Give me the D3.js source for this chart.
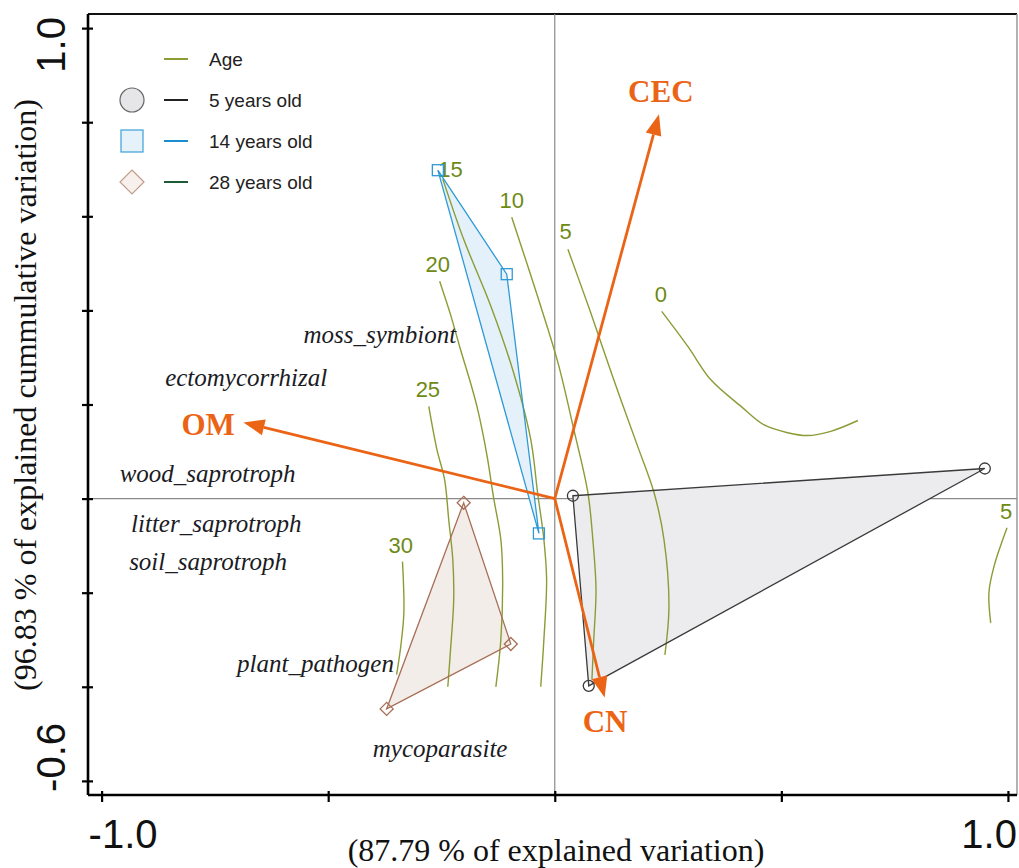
<!DOCTYPE html>
<html>
<head>
<meta charset="utf-8">
<script src="https://cdn.jsdelivr.net/npm/d3@7/dist/d3.min.js"></script>
<style>
  html, body { margin: 0; padding: 0; background: #fff; }
  svg { display: block; }
</style>
</head>
<body>
<div id="chart"></div>
<script>
// ---------------------------------------------------------------------------
// Data (all in axis units)
// ---------------------------------------------------------------------------
const xTicks = [-1.0, -0.5, 0.0, 0.5, 1.0];
const yTicks = [-0.6, -0.4, -0.2, 0.0, 0.2, 0.4, 0.6, 0.8, 1.0];
const xTickLabels = { "-1": "-1.0", "1": "1.0" };
const yTickLabels = { "1": "1.0", "-0.6": "-0.6" };

const xTitle = "(87.79 % of explained variation)";
const yTitle = "(96.83 % of explained cummulative variation)";

// sample groups (convex hulls)
const groupNames = ["5 years old", "14 years old", "28 years old"];
const group5 = [[0.040, 0.006], [0.949, 0.064], [0.075, -0.398]];
const group14 = [[-0.258, 0.698], [-0.106, 0.477], [-0.035, -0.074]];
const group28 = [[-0.201, -0.009], [-0.097, -0.309], [-0.371, -0.447]];

// environmental variables (arrow tips)
const envNames = ["CEC", "OM", "CN"];
const envX = [0.230, -0.687, 0.110];
const envY = [0.817, 0.162, -0.423];
const envLabelX = [0.234, -0.765, 0.111];
const envLabelY = [0.843, 0.136, -0.496];

// fungal guilds (species scores, label centres)
const speciesNames = ["moss_symbiont", "ectomycorrhizal", "wood_saprotroph", "litter_saprotroph",
  "soil_saprotroph", "plant_pathogen", "mycoparasite"];
const speciesX = [-0.386, -0.681, -0.766, -0.747, -0.765, -0.528, -0.253];
const speciesY = [0.347, 0.255, 0.051, -0.055, -0.136, -0.353, -0.534];

// Age isolines (GAM surface)
const ageLevels = ["0", "5", "10", "15", "20", "25", "30", "5"];
const ageLabelX = [0.234, 0.024, -0.095, -0.230, -0.258, -0.280, -0.340, 0.996];
const ageLabelY = [0.417, 0.551, 0.617, 0.683, 0.481, 0.217, -0.115, -0.043];
const age0 = [[0.236, 0.398], [0.294, 0.323], [0.344, 0.253], [0.411, 0.196], [0.461, 0.157],
  [0.514, 0.140], [0.558, 0.134], [0.609, 0.143], [0.669, 0.166]];
const age5 = [[0.029, 0.530], [0.079, 0.396], [0.130, 0.253], [0.183, 0.111], [0.219, 0.013],
  [0.241, -0.087], [0.252, -0.230], [0.243, -0.332]];
const age10 = [[-0.095, 0.598], [-0.038, 0.430], [0.007, 0.289], [0.042, 0.147], [0.073, 0.013],
  [0.084, -0.087], [0.091, -0.194], [0.086, -0.300], [0.082, -0.385]];
const age15 = [[-0.247, 0.679], [-0.201, 0.551], [-0.141, 0.409], [-0.091, 0.268], [-0.053, 0.126],
  [-0.038, 0.013], [-0.024, -0.087], [-0.018, -0.172], [-0.024, -0.300], [-0.031, -0.400]];
const age20 = [[-0.254, 0.462], [-0.230, 0.391], [-0.208, 0.317], [-0.185, 0.243], [-0.170, 0.189],
  [-0.150, 0.094], [-0.135, 0.002], [-0.119, -0.087], [-0.115, -0.172], [-0.119, -0.300], [-0.130, -0.400]];
const age25 = [[-0.278, 0.196], [-0.260, 0.104], [-0.243, 0.040], [-0.234, -0.045], [-0.225, -0.130],
  [-0.223, -0.215], [-0.230, -0.321], [-0.236, -0.400]];
const age30 = [[-0.336, -0.134], [-0.333, -0.243], [-0.340, -0.315], [-0.349, -0.374]];
const age5b = [[0.998, -0.062], [0.969, -0.145], [0.958, -0.200], [0.962, -0.264]];

const legendLabels = ["Age", "5 years old", "14 years old", "28 years old"];

// ---------------------------------------------------------------------------
// Drawing
// ---------------------------------------------------------------------------
const width = 1019, height = 868;
const plot = { left: 88, right: 1017, top: 14, bottom: 795 };
const orange = "#EB6416";
const olive = "#8A9C35";
const oliveText = "#6E8A14";
const sans = "'Liberation Sans', Arial, sans-serif";
const serif = "'Liberation Serif', 'Times New Roman', serif";

const svg = d3.select("#chart").append("svg")
  .attr("width", width)
  .attr("height", height);

const x = d3.scaleLinear().domain([-1.03, 1.02]).range([plot.left, plot.right]);
const y = d3.scaleLinear().domain([-0.63, 1.03]).range([plot.bottom, plot.top]);

// frame: thin top / right border
svg.append("line").attr("x1", plot.left).attr("x2", plot.right)
  .attr("y1", plot.top).attr("y2", plot.top)
  .attr("stroke", "#111").attr("stroke-width", 2);
svg.append("line").attr("x1", plot.right).attr("x2", plot.right)
  .attr("y1", plot.top).attr("y2", plot.bottom)
  .attr("stroke", "#999").attr("stroke-width", 1.5);

// zero lines
svg.append("line").attr("x1", plot.left).attr("x2", plot.right)
  .attr("y1", y(0)).attr("y2", y(0))
  .attr("stroke", "#8a8a8a").attr("stroke-width", 1.2);
svg.append("line").attr("x1", x(0)).attr("x2", x(0))
  .attr("y1", plot.top).attr("y2", plot.bottom)
  .attr("stroke", "#8a8a8a").attr("stroke-width", 1.2);

// group hull fills
const groups = [
  { pts: group5, fill: "#ECECEF", stroke: "#3a3a3a", shape: "circle" },
  { pts: group14, fill: "#E5F1FA", stroke: "#2E9AD5", shape: "square" },
  { pts: group28, fill: "#F3EDEA", stroke: "#A86E55", shape: "diamond" }
];
const hull = d3.line().x(d => x(d[0])).y(d => y(d[1])).curve(d3.curveLinearClosed);

svg.selectAll(".hull-fill")
  .data(groups)
  .enter().append("path")
  .attr("class", "hull-fill")
  .attr("d", d => hull(d.pts))
  .attr("fill", d => d.fill)
  .attr("stroke", "none");

// age isolines
const ageLines = [age0, age5, age10, age15, age20, age25, age30, age5b];
const isoline = d3.line().x(d => x(d[0])).y(d => y(d[1])).curve(d3.curveCatmullRom);

svg.selectAll(".iso")
  .data(ageLines)
  .enter().append("path")
  .attr("class", "iso")
  .attr("d", isoline)
  .attr("fill", "none")
  .attr("stroke", olive)
  .attr("stroke-width", 1.4);

svg.selectAll(".iso-label")
  .data(ageLevels)
  .enter().append("text")
  .attr("class", "iso-label")
  .attr("x", (d, i) => x(ageLabelX[i]))
  .attr("y", (d, i) => y(ageLabelY[i]))
  .attr("text-anchor", "middle")
  .style("font-family", sans)
  .style("font-size", "22px")
  .style("fill", oliveText)
  .text(d => d);

// hull outlines + sample markers
svg.selectAll(".hull-line")
  .data(groups)
  .enter().append("path")
  .attr("class", "hull-line")
  .attr("d", d => hull(d.pts))
  .attr("fill", "none")
  .attr("stroke", d => d.stroke)
  .attr("stroke-width", 1.3);

function marker(sel, shape, size) {
  if (shape === "circle") {
    sel.append("circle").attr("r", size).attr("cx", 0).attr("cy", 0);
  } else if (shape === "square") {
    sel.append("rect").attr("x", -size).attr("y", -size)
      .attr("width", size * 2).attr("height", size * 2);
  } else {
    sel.append("path").attr("d", `M0,${-size}L${size},0L0,${size}L${-size},0Z`);
  }
}

groups.forEach(g => {
  g.pts.forEach(p => {
    const m = svg.append("g")
      .attr("transform", `translate(${x(p[0])},${y(p[1])})`)
      .attr("fill", "none")
      .attr("stroke", g.stroke)
      .attr("stroke-width", 1.3);
    marker(m, g.shape, g.shape === "diamond" ? 6.5 : 5.5);
  });
});

// environmental arrows
const x0 = x(0), y0 = y(0);
envNames.forEach((name, i) => {
  const tx = x(envX[i]), ty = y(envY[i]);
  const len = Math.hypot(tx - x0, ty - y0);
  const ux = (tx - x0) / len, uy = (ty - y0) / len;
  const headLen = 21, headHalf = 8;
  const bx = tx - ux * headLen, by = ty - uy * headLen;

  svg.append("line")
    .attr("x1", x0).attr("y1", y0)
    .attr("x2", bx).attr("y2", by)
    .attr("stroke", orange)
    .attr("stroke-width", 2.8);

  svg.append("path")
    .attr("d", `M${tx},${ty}L${bx - uy * headHalf},${by + ux * headHalf}L${bx + uy * headHalf},${by - ux * headHalf}Z`)
    .attr("fill", orange);

  svg.append("text")
    .attr("x", x(envLabelX[i]))
    .attr("y", y(envLabelY[i]))
    .attr("text-anchor", "middle")
    .style("font-family", serif)
    .style("font-weight", "bold")
    .style("font-size", "31px")
    .style("fill", orange)
    .text(name);
});

// guild labels
svg.selectAll(".species")
  .data(speciesNames)
  .enter().append("text")
  .attr("class", "species")
  .attr("x", (d, i) => x(speciesX[i]))
  .attr("y", (d, i) => y(speciesY[i]))
  .attr("dy", "0.3em")
  .attr("text-anchor", "middle")
  .style("font-family", serif)
  .style("font-style", "italic")
  .style("font-size", "25px")
  .style("fill", "#1b1b24")
  .text(d => d);

// axes: ticks cross the axis line, only the end values get a label
const xAxis = svg.append("g")
  .attr("transform", `translate(0,${plot.bottom})`)
  .call(d3.axisBottom(x).tickValues(xTicks).tickSize(7).tickFormat(""));
const yAxis = svg.append("g")
  .attr("transform", `translate(${plot.left},0)`)
  .call(d3.axisLeft(y).tickValues(yTicks).tickSize(6).tickFormat(""));

xAxis.select(".domain").attr("d", `M${plot.left},0H${plot.right}`).attr("stroke-width", 2.6);
yAxis.select(".domain").attr("d", `M0,${plot.top}V${plot.bottom}`).attr("stroke-width", 2.6);
xAxis.selectAll(".tick line").attr("y1", -4).attr("stroke-width", 2.2);
yAxis.selectAll(".tick line").attr("x1", 5).attr("stroke-width", 2.2);

svg.selectAll(".xtick-label")
  .data(xTicks.filter(v => xTickLabels[v]))
  .enter().append("text")
  .attr("class", "xtick-label")
  .attr("x", d => d < 0 ? x(d) - 13 : x(d) + 9)
  .attr("y", 848)
  .attr("text-anchor", d => d < 0 ? "start" : "end")
  .style("font-family", sans)
  .style("font-size", "40px")
  .style("fill", "#111")
  .text(d => xTickLabels[d]);

svg.selectAll(".ytick-label")
  .data(yTicks.filter(v => yTickLabels[v]))
  .enter().append("text")
  .attr("class", "ytick-label")
  .attr("transform", d => `translate(65,${d > 0 ? y(d) - 11 : y(d) + 11}) rotate(-90)`)
  .attr("text-anchor", d => d > 0 ? "end" : "start")
  .style("font-family", sans)
  .style("font-size", "40px")
  .style("fill", "#111")
  .text(d => yTickLabels[d]);

// axis titles
svg.append("text")
  .attr("x", 556)
  .attr("y", 861)
  .attr("text-anchor", "middle")
  .style("font-family", serif)
  .style("font-size", "32px")
  .style("fill", "#111")
  .text(xTitle);

svg.append("text")
  .attr("transform", "translate(36,395) rotate(-90)")
  .attr("text-anchor", "middle")
  .style("font-family", serif)
  .style("font-size", "32px")
  .style("fill", "#111")
  .text(yTitle);

// legend
const legendColors = [olive, "#222", "#1A8DD0", "#1F5A36"];
const legendShapes = [null, "circle", "square", "diamond"];
const legendFill = [null, "#E6E6E8", "#E6F2FA", "#F7F0EC"];
const legendStroke = [null, "#666", "#3BA0D8", "#C29C8A"];

const legend = svg.append("g").attr("transform", "translate(0,59)");
legendLabels.forEach((label, i) => {
  const row = legend.append("g").attr("transform", `translate(0,${i * 41})`);
  if (legendShapes[i]) {
    const m = row.append("g")
      .attr("transform", "translate(132,0)")
      .attr("fill", legendFill[i])
      .attr("stroke", legendStroke[i])
      .attr("stroke-width", 1.2);
    marker(m, legendShapes[i], legendShapes[i] === "square" ? 11 : 12);
  }
  row.append("line")
    .attr("x1", 164).attr("x2", 188)
    .attr("y1", 0).attr("y2", 0)
    .attr("stroke", legendColors[i])
    .attr("stroke-width", 2);
  row.append("text")
    .attr("x", 209)
    .attr("y", 7)
    .style("font-family", sans)
    .style("font-size", "19px")
    .style("fill", "#222")
    .text(label);
});
</script>
</body>
</html>
